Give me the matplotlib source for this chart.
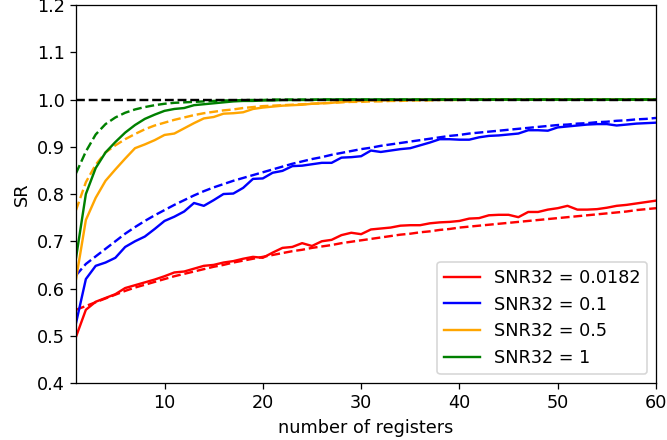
import matplotlib
matplotlib.use("Agg")
import matplotlib.pyplot as plt
from matplotlib.ticker import FormatStrFormatter
import numpy as np

plt.rcParams["font.size"] = 11

registers = np.arange(1, 61)

labels = ["SNR32 = 0.0182", "SNR32 = 0.1", "SNR32 = 0.5", "SNR32 = 1"]
colors = ["red", "blue", "orange", "green"]

# measured success rate (solid lines)
sr_0182 = [0.498, 0.555, 0.572, 0.580, 0.588, 0.601, 0.607, 0.613, 0.619, 0.626,
           0.634, 0.636, 0.642, 0.648, 0.650, 0.655, 0.658, 0.663, 0.667, 0.665,
           0.676, 0.686, 0.688, 0.696, 0.690, 0.700, 0.703, 0.713, 0.718, 0.715,
           0.725, 0.727, 0.729, 0.733, 0.734, 0.734, 0.738, 0.740, 0.741, 0.743,
           0.748, 0.749, 0.755, 0.756, 0.756, 0.751, 0.762, 0.762, 0.767, 0.770,
           0.775, 0.767, 0.767, 0.768, 0.771, 0.775, 0.777, 0.780, 0.783, 0.786]
sr_01 = [0.527, 0.620, 0.648, 0.655, 0.665, 0.688, 0.700, 0.710, 0.726, 0.743,
         0.752, 0.763, 0.781, 0.775, 0.787, 0.800, 0.801, 0.813, 0.832, 0.833,
         0.845, 0.849, 0.859, 0.860, 0.863, 0.866, 0.866, 0.877, 0.878, 0.880,
         0.892, 0.889, 0.892, 0.895, 0.897, 0.903, 0.909, 0.916, 0.916, 0.915,
         0.915, 0.920, 0.923, 0.924, 0.926, 0.928, 0.935, 0.935, 0.934, 0.941,
         0.943, 0.945, 0.947, 0.948, 0.948, 0.945, 0.947, 0.949, 0.950, 0.951]
sr_05 = [0.620, 0.745, 0.792, 0.828, 0.852, 0.875, 0.897, 0.905, 0.914, 0.925,
         0.928, 0.939, 0.950, 0.960, 0.963, 0.970, 0.971, 0.973, 0.980, 0.983,
         0.985, 0.987, 0.988, 0.989, 0.991, 0.992, 0.993, 0.995, 0.996, 0.997,
         0.998, 0.998, 0.999, 0.999, 0.999, 1.000, 1.000, 1.000, 1.000, 1.000,
         1.000, 1.000, 1.000, 1.000, 1.000, 1.000, 1.000, 1.000, 1.000, 1.000,
         1.000, 1.000, 1.000, 1.000, 1.000, 1.000, 1.000, 1.000, 1.000, 1.000]
sr_1 = [0.665, 0.800, 0.855, 0.888, 0.910, 0.930, 0.946, 0.959, 0.968, 0.976,
        0.980, 0.982, 0.988, 0.990, 0.992, 0.994, 0.996, 0.997, 0.997, 0.998,
        0.998, 0.999, 0.999, 0.999, 0.999, 1.000, 1.000, 1.000, 1.000, 1.000,
        1.000, 1.000, 1.000, 1.000, 1.000, 1.000, 1.000, 1.000, 1.000, 1.000,
        1.000, 1.000, 1.000, 1.000, 1.000, 1.000, 1.000, 1.000, 1.000, 1.000,
        1.000, 1.000, 1.000, 1.000, 1.000, 1.000, 1.000, 1.000, 1.000, 1.000]

# theoretical success rate (dashed lines)
th_0182 = [0.555, 0.563, 0.571, 0.579, 0.587, 0.595, 0.602, 0.608, 0.614, 0.620,
           0.626, 0.631, 0.636, 0.641, 0.646, 0.650, 0.655, 0.659, 0.663, 0.667,
           0.671, 0.675, 0.679, 0.682, 0.686, 0.689, 0.692, 0.696, 0.699, 0.702,
           0.705, 0.708, 0.711, 0.714, 0.716, 0.719, 0.721, 0.724, 0.726, 0.729,
           0.731, 0.733, 0.735, 0.737, 0.739, 0.741, 0.743, 0.745, 0.747, 0.749,
           0.751, 0.753, 0.755, 0.757, 0.759, 0.761, 0.763, 0.766, 0.768, 0.770]
th_01 = [0.628, 0.652, 0.668, 0.684, 0.700, 0.716, 0.730, 0.743, 0.755, 0.766,
         0.777, 0.787, 0.797, 0.806, 0.814, 0.821, 0.828, 0.834, 0.840, 0.846,
         0.852, 0.858, 0.864, 0.869, 0.874, 0.878, 0.883, 0.887, 0.891, 0.895,
         0.898, 0.902, 0.905, 0.908, 0.911, 0.914, 0.917, 0.920, 0.923, 0.925,
         0.928, 0.930, 0.932, 0.934, 0.936, 0.938, 0.940, 0.942, 0.944, 0.946,
         0.947, 0.949, 0.950, 0.952, 0.953, 0.955, 0.956, 0.958, 0.959, 0.961]
th_05 = [0.766, 0.825, 0.862, 0.888, 0.903, 0.916, 0.927, 0.937, 0.945, 0.951,
         0.957, 0.962, 0.967, 0.971, 0.974, 0.977, 0.979, 0.982, 0.984, 0.986,
         0.987, 0.988, 0.989, 0.990, 0.991, 0.992, 0.993, 0.994, 0.995, 0.995,
         0.996, 0.996, 0.997, 0.997, 0.998, 0.998, 0.998, 0.999, 0.999, 0.999,
         1.000, 1.000, 1.000, 1.000, 1.000, 1.000, 1.000, 1.000, 1.000, 1.000,
         1.000, 1.000, 1.000, 1.000, 1.000, 1.000, 1.000, 1.000, 1.000, 1.000]
th_1 = [0.844, 0.890, 0.926, 0.948, 0.962, 0.972, 0.979, 0.984, 0.988, 0.991,
        0.993, 0.994, 0.995, 0.996, 0.997, 0.998, 0.998, 0.999, 0.999, 0.999,
        1.000, 1.000, 1.000, 1.000, 1.000, 1.000, 1.000, 1.000, 1.000, 1.000,
        1.000, 1.000, 1.000, 1.000, 1.000, 1.000, 1.000, 1.000, 1.000, 1.000,
        1.000, 1.000, 1.000, 1.000, 1.000, 1.000, 1.000, 1.000, 1.000, 1.000,
        1.000, 1.000, 1.000, 1.000, 1.000, 1.000, 1.000, 1.000, 1.000, 1.000]

measured = [sr_0182, sr_01, sr_05, sr_1]
theory = [th_0182, th_01, th_05, th_1]

fig = plt.figure(figsize=(667 / 115, 440 / 115), dpi=115)
ax = fig.add_axes([0.114, 0.1295, 0.8695, 0.8591])

for sr, th, color, label in zip(measured, theory, colors, labels):
    ax.plot(registers, sr, color=color, linewidth=1.5, label=label)
    ax.plot(registers, th, color=color, linewidth=1.5, linestyle="--")

# upper bound
ax.axhline(y=1.0, color="k", linestyle="--", linewidth=1.5)

ax.set_xlim(1, 60)
ax.set_ylim(0.4, 1.2)
ax.set_xticks([10, 20, 30, 40, 50, 60])
ax.yaxis.set_major_formatter(FormatStrFormatter("%.1f"))
ax.set_xlabel("number of registers")
ax.set_ylabel("SR")
ax.legend(loc="lower right")

fig.savefig("out.png", dpi=115)
